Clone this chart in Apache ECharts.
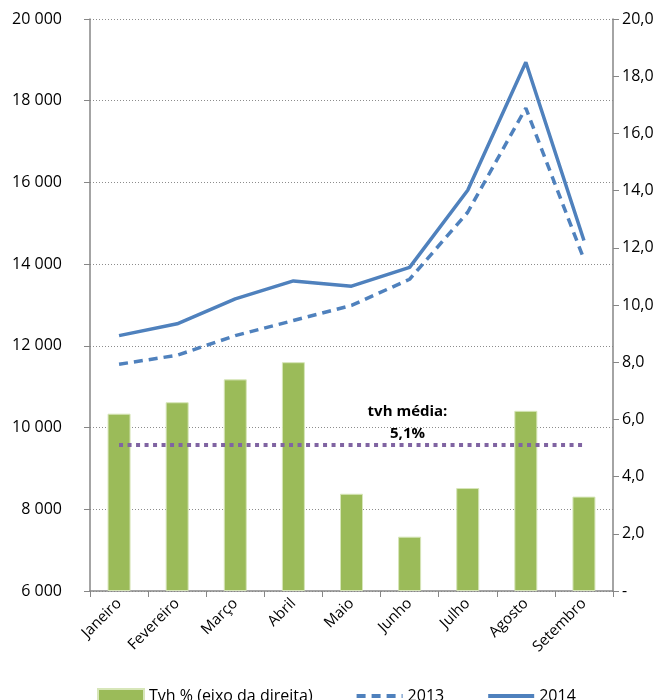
<!DOCTYPE html>
<html>
<head>
<meta charset="utf-8">
<script src="https://cdn.jsdelivr.net/npm/echarts@6/dist/echarts.min.js"></script>
<style>
  html, body { margin: 0; padding: 0; background: #fff; }
  #chart { width: 670px; height: 700px; }
</style>
</head>
<body>
<div id="chart"></div>
<script>
// meses
const months = ['Janeiro', 'Fevereiro', 'Março', 'Abril', 'Maio', 'Junho', 'Julho', 'Agosto', 'Setembro'];
// tvh % (eixo da direita)
const tvh = [6.2, 6.6, 7.4, 8.0, 3.4, 1.9, 3.6, 6.3, 3.3];
const values2013 = [11550, 11770, 12250, 12620, 12990, 13630, 15270, 17820, 14120];
const values2014 = [12250, 12540, 13150, 13590, 13460, 13920, 15810, 18940, 14580];
const tvhMedia = 5.1;

const COLORS = {
  BAR: '#9BBB59',
  LINE: '#4F81BD',
  AVG: '#8064A2',
  AXIS: '#868686',
  GRID: '#8c8c8c',
  TEXT: '#000000',
};
const FONT = '"Open Sans", "Noto Sans", sans-serif';

const fmtLeft = (v) => String(v).replace(/\B(?=(\d{3})+(?!\d))/g, ' ');
const fmtRight = (v) => v === 0 ? '-' : v.toFixed(1).replace('.', ',');

const chart = echarts.init(document.getElementById('chart'), null, { renderer: 'canvas' });

chart.setOption({
  animation: false,
  textStyle: { fontFamily: FONT },
  grid: { left: 90, right: 57, top: 19, bottom: 109 },
  legend: {
    left: 92,
    top: 683,
    itemGap: 42,
    itemWidth: 46,
    itemHeight: 14,
    textStyle: { fontSize: 16, color: COLORS.TEXT, fontFamily: FONT },
    data: [
      { name: 'Tvh % (eixo da direita)', icon: 'rect' },
      { name: '2013', itemStyle: { opacity: 0 }, lineStyle: { width: 4 } },
      { name: '2014', itemStyle: { opacity: 0 }, lineStyle: { width: 4 } },
    ],
  },
  xAxis: {
    type: 'category',
    data: months,
    boundaryGap: true,
    axisLine: { lineStyle: { color: COLORS.AXIS, width: 1.5 } },
    axisTick: { show: true, alignWithLabel: false, length: 6, lineStyle: { color: COLORS.AXIS } },
    axisLabel: { rotate: 45, fontSize: 15, color: COLORS.TEXT, margin: 10, interval: 0 },
  },
  yAxis: [
    {
      type: 'value',
      min: 6000,
      max: 20000,
      interval: 2000,
      position: 'left',
      axisLine: { show: true, lineStyle: { color: COLORS.AXIS, width: 1.5 } },
      axisTick: { show: true, length: 6, lineStyle: { color: COLORS.AXIS } },
      axisLabel: { formatter: fmtLeft, fontSize: 16, color: COLORS.TEXT, margin: 28 },
      splitLine: { show: true, lineStyle: { color: COLORS.GRID, type: [1, 2], width: 1 } },
    },
    {
      type: 'value',
      min: 0,
      max: 20,
      interval: 2,
      position: 'right',
      axisLine: { show: true, lineStyle: { color: COLORS.AXIS, width: 1.5 } },
      axisTick: { show: true, length: 6, lineStyle: { color: COLORS.AXIS } },
      axisLabel: { formatter: fmtRight, fontSize: 16, color: COLORS.TEXT, margin: 9 },
      splitLine: { show: false },
    },
  ],
  series: [
    {
      name: 'Tvh % (eixo da direita)',
      type: 'bar',
      yAxisIndex: 1,
      data: tvh,
      barWidth: 23,
      itemStyle: { color: COLORS.BAR, borderColor: '#d7e6b9', borderWidth: 1 },
      z: 1,
      markLine: {
        silent: true,
        symbol: ['none', 'none'],
        lineStyle: { color: COLORS.AVG, width: 4, type: [4, 4.5] },
        label: {
          show: true,
          position: 'middle',
          formatter: 'tvh média:\n5,1%',
          fontSize: 15,
          fontWeight: 'bold',
          color: COLORS.TEXT,
          lineHeight: 22,
          align: 'center',
          offset: [56, 5],
        },
        data: [[
          { xAxis: months[0], yAxis: tvhMedia },
          { xAxis: months[months.length - 1], yAxis: tvhMedia },
        ]],
      },
    },
    {
      name: '2013',
      type: 'line',
      yAxisIndex: 0,
      data: values2013,
      symbol: 'none',
      lineStyle: { color: COLORS.LINE, width: 3.5, type: [9, 6] },
      itemStyle: { color: COLORS.LINE },
      z: 3,
    },
    {
      name: '2014',
      type: 'line',
      yAxisIndex: 0,
      data: values2014,
      symbol: 'none',
      lineStyle: { color: COLORS.LINE, width: 3.5 },
      itemStyle: { color: COLORS.LINE },
      z: 3,
    },
  ],
});
</script>
</body>
</html>
